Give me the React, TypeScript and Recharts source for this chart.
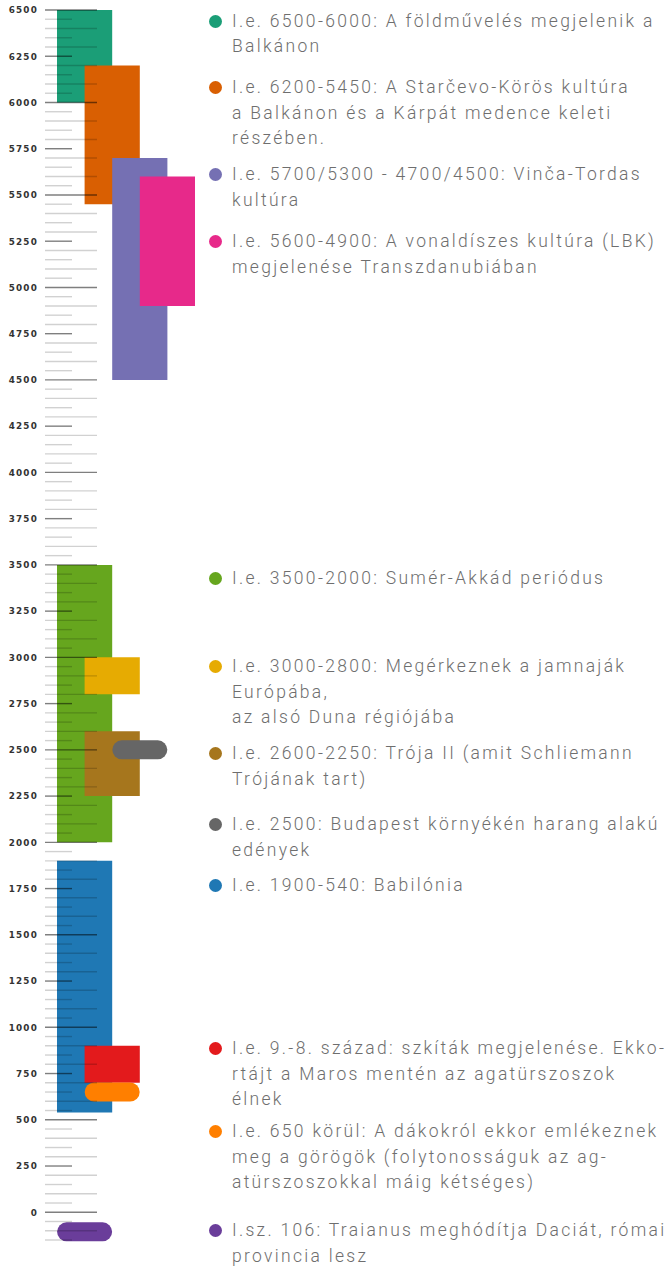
import React from "react";
import { ComposedChart, XAxis, YAxis, ReferenceArea, Scatter, Cell } from "recharts";

// events, top to bottom (years BC positive, AD negative)
const eventLabels = [
  ["I.e. 6500-6000: A földművelés megjelenik a", "Balkánon"],
  ["I.e. 6200-5450: A Starčevo-Körös kultúra", "a Balkánon és a Kárpát medence keleti", "részében."],
  ["I.e. 5700/5300 - 4700/4500: Vinča-Tordas", "kultúra"],
  ["I.e. 5600-4900: A vonaldíszes kultúra (LBK)", "megjelenése Transzdanubiában"],
  ["I.e. 3500-2000: Sumér-Akkád periódus"],
  ["I.e. 3000-2800: Megérkeznek a jamnaják", "Európába,", "az alsó Duna régiójába"],
  ["I.e. 2600-2250: Trója II (amit Schliemann", "Trójának tart)"],
  ["I.e. 2500: Budapest környékén harang alakú", "edények"],
  ["I.e. 1900-540: Babilónia"],
  ["I.e. 9.-8. század: szkíták megjelenése. Ekko-", "rtájt a Maros mentén az agatürszoszok", "élnek"],
  ["I.e. 650 körül: A dákokról ekkor emlékeznek", "meg a görögök (folytonosságuk az ag-", "atürszoszokkal máig kétséges)"],
  ["I.sz. 106: Traianus meghódítja Daciát, római", "provincia lesz"],
];
const eventStart = [6500, 6200, 5700, 5600, 3500, 3000, 2600, 2500, 1900, 900, 650, -106];
const eventEnd = [6000, 5450, 4500, 4900, 2000, 2800, 2250, null, 540, 700, null, null];
const eventLane = [0, 1, 2, 3, 0, 1, 1, 2, 0, 1, 1, 0];
const eventColors = [
  "#1b9e77", "#d95f02", "#7570b3", "#e7298a", "#66a61e", "#e6ab02",
  "#a6761d", "#666666", "#1f78b4", "#e31a1c", "#ff7f00", "#6a3d9a",
];

const yMin = -150;
const yMax = 6500;
const tickStep = 50;
const labelStep = 250;

// layout of the legend column (centre of each item's first line)
const legendLineY = [21.5, 88, 175, 242, 579, 667, 754, 825, 886, 1049, 1132, 1231];
const LINE_H = 25.3;

const yTicks: number[] = [];
for (let v = yMax; v >= yMin; v -= tickStep) yTicks.push(v);

const points = eventStart
  .map((year, i) => ({ year, lane: eventLane[i] + 1, color: eventColors[i], end: eventEnd[i] }))
  .filter((p) => p.end === null);

function YTick(props: any) {
  const { x, y, payload } = props;
  const v = payload.value;
  const labelled = v % labelStep === 0 && v >= 0;
  const len = v % 100 === 0 ? 52 : 27;
  return (
    <g>
      <line
        x1={x + 7}
        x2={x + 7 + len}
        y1={y}
        y2={y}
        stroke={labelled ? "rgba(0,0,0,0.5)" : "rgba(0,0,0,0.18)"}
        strokeWidth={1.4}
      />
      {labelled && (
        <text
          x={x}
          y={y}
          dy={3.3}
          textAnchor="end"
          fill="#333"
          fontFamily="DejaVu Sans"
          fontWeight="bold"
          fontSize={8.8}
          letterSpacing={1.2}
        >
          {v}
        </text>
      )}
    </g>
  );
}

function Pill(props: any) {
  const { cx, cy, fill } = props;
  return <rect x={cx - 27.5} y={cy - 9.5} width={55} height={19} rx={9.5} fill={fill} />;
}

export default function App() {
  return (
    <div style={{ position: "absolute", left: 0, top: 0, width: 670, height: 1266, background: "#fff" }}>
      <ComposedChart width={200} height={1266} margin={{ top: 10, right: 5, bottom: 26, left: 0 }}>
        <XAxis type="number" dataKey="lane" domain={[0, 5]} hide />
        <YAxis
          type="number"
          dataKey="year"
          domain={[yMin, yMax]}
          ticks={yTicks}
          interval={0}
          width={57}
          tickSize={0}
          tickMargin={19}
          axisLine={false}
          tickLine={false}
          tick={<YTick />}
        />
        {eventStart.map((start, i) =>
          eventEnd[i] === null ? null : (
            <ReferenceArea
              key={i}
              x1={eventLane[i]}
              x2={eventLane[i] + 2}
              y1={eventEnd[i] as number}
              y2={start}
              fill={eventColors[i]}
              fillOpacity={1}
              stroke="none"
            />
          )
        )}
        <Scatter data={points} shape={<Pill />} isAnimationActive={false}>
          {points.map((p, i) => (
            <Cell key={i} fill={p.color} />
          ))}
        </Scatter>
      </ComposedChart>
      {eventLabels.map((lines, i) => (
        <div
          key={i}
          style={{
            position: "absolute",
            left: 209,
            top: legendLineY[i] - LINE_H / 2,
            fontFamily: "Roboto",
            fontWeight: 300,
            fontSize: 17.5,
            letterSpacing: 2.3,
            lineHeight: `${LINE_H}px`,
            color: "#6e6e6e",
            whiteSpace: "nowrap",
          }}
        >
          <span
            style={{
              position: "absolute",
              left: 0,
              top: LINE_H / 2 - 6.5,
              width: 13,
              height: 13,
              borderRadius: "50%",
              background: eventColors[i],
            }}
          />
          <div style={{ paddingLeft: 23 }}>
            {lines.map((l, j) => (
              <div key={j}>{l}</div>
            ))}
          </div>
        </div>
      ))}
    </div>
  );
}
